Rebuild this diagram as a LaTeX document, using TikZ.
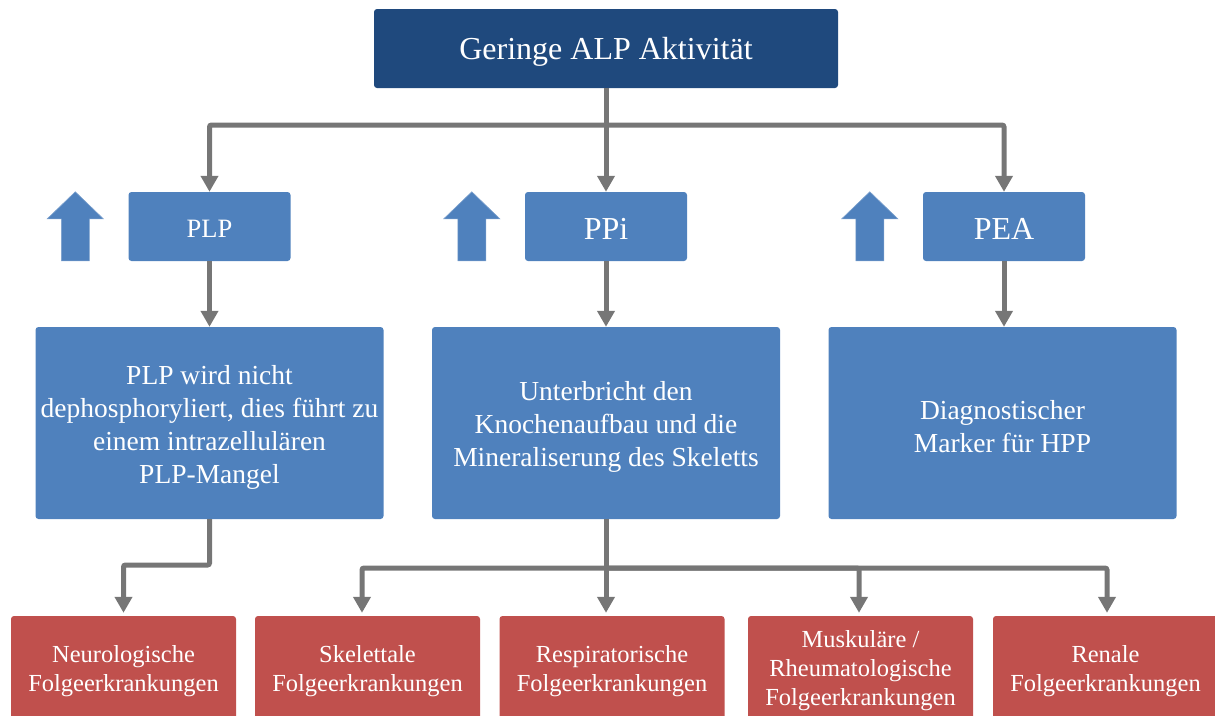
\documentclass[tikz,border=0pt]{standalone}
\usepackage{fontspec}
\setmainfont{Liberation Serif}
\usetikzlibrary{arrows.meta}
\definecolor{topblue}{RGB}{31,73,125}
\definecolor{midblue}{RGB}{79,129,189}
\definecolor{redbox}{RGB}{192,80,77}
\definecolor{linegray}{RGB}{118,118,118}
\begin{document}
\begin{tikzpicture}[x=1pt,y=-1pt,
  box/.style={rounded corners=3pt, inner sep=0pt},
  lbl/.style={text=white, align=center, inner sep=0pt},
  head/.style={box, fill=topblue, minimum width=464pt, minimum height=79pt,
    label={[lbl, font=\fontsize{32}{38}\selectfont, yshift=-3pt]center:{#1}}},
  tag/.style={box, fill=midblue, minimum width=162pt, minimum height=69pt,
    label={[lbl, yshift=-2pt]center:{#1}}},
  info/.style={box, fill=midblue, minimum width=348pt, minimum height=192pt,
    label={[lbl, font=\fontsize{27.5}{33}\selectfont, yshift=-4pt]center:{#1}}},
  result/.style={box, fill=redbox, minimum width=225pt, minimum height=104pt,
    label={[lbl, font=\fontsize{24.5}{29}\selectfont, yshift=-3pt]center:{#1}}},
  link/.style={draw=linegray, line width=5pt, rounded corners=2pt},
  arr/.style={link, -{Triangle[width=17pt,length=16pt]}},
  uparrow/.style={fill=midblue, draw=midblue!75!white, line width=0.6pt}
]
\useasboundingbox (0,0) rectangle (1215,715);
\clip (0,0) rectangle (1215,715);

% top level
\node[head={Geringe ALP Aktivität}] (alp) at (606,48.5) {};

% metabolites
\node[tag={\fontsize{26.5}{32}\selectfont PLP}] (plp) at (209.5,226.5) {};
\node[tag={\fontsize{32}{38}\selectfont PPi}] (ppi) at (606,226.5) {};
\node[tag={\fontsize{32}{38}\selectfont PEA}] (pea) at (1004,226.5) {};

% "increased" arrows beside each metabolite
\foreach \n in {plp,ppi,pea}{
  \draw[uparrow] ([xshift=-53pt]\n.north west) -- ++(28,27) -- ++(-14,0)
    -- ++(0,42) -- ++(-28,0) -- ++(0,-42) -- ++(-14,0) -- cycle;
}

% consequences
\node[info={PLP wird nicht\\dephosphoryliert, dies führt zu\\einem intrazellulären\\PLP-Mangel}] (plpinfo) at (209.5,423) {};
\node[info={Unterbricht den\\Knochenaufbau und die\\Mineraliserung des Skeletts}] (ppiinfo) at (606,423) {};
\node[info={Diagnostischer\\Marker für HPP}] (peainfo) at (1002.5,423) {};

% secondary diseases
\node[result={Neurologische\\Folgeerkrankungen}] (neuro) at (123.5,668) {};
\node[result={Skelettale\\Folgeerkrankungen}] (skel) at (367.5,668) {};
\node[result={Respiratorische\\Folgeerkrankungen}] (resp) at (612,668) {};
\node[result={Muskuläre /\\Rheumatologische\\Folgeerkrankungen}] (musk) at (860.5,668) {};
\node[result={Renale\\Folgeerkrankungen}] (renal) at (1105.5,668) {};

% connectors: top level to metabolites
\coordinate (j1) at (606,125);
\draw[link] (alp.south) -- (j1);
\draw[arr] (j1) -| (plp.north);
\draw[arr] (j1) -- (ppi.north);
\draw[arr] (j1) -| (pea.north);

% metabolites to consequences
\draw[arr] (plp.south) -- (plpinfo.north);
\draw[arr] (ppi.south) -- (ppiinfo.north);
\draw[arr] (pea.south) -- (pea.south |- peainfo.north);

% consequences to secondary diseases
\coordinate (j2) at (209.5,565);
\draw[arr, shorten >=3pt] (plpinfo.south) -- (j2) -| (neuro.north);

\coordinate (j3) at (606,568);
\draw[link] (ppiinfo.south) -- (j3);
\draw[arr, shorten >=3pt] (j3) -| ([xshift=-5.5pt]skel.north);
\draw[arr, shorten >=3pt] (j3) -- (j3 |- resp.north);
\draw[arr, shorten >=3pt] (j3) -| ([xshift=-1.5pt]musk.north);
\draw[arr, shorten >=3pt] (j3) -| ([xshift=1.5pt]renal.north);
\end{tikzpicture}
\end{document}
